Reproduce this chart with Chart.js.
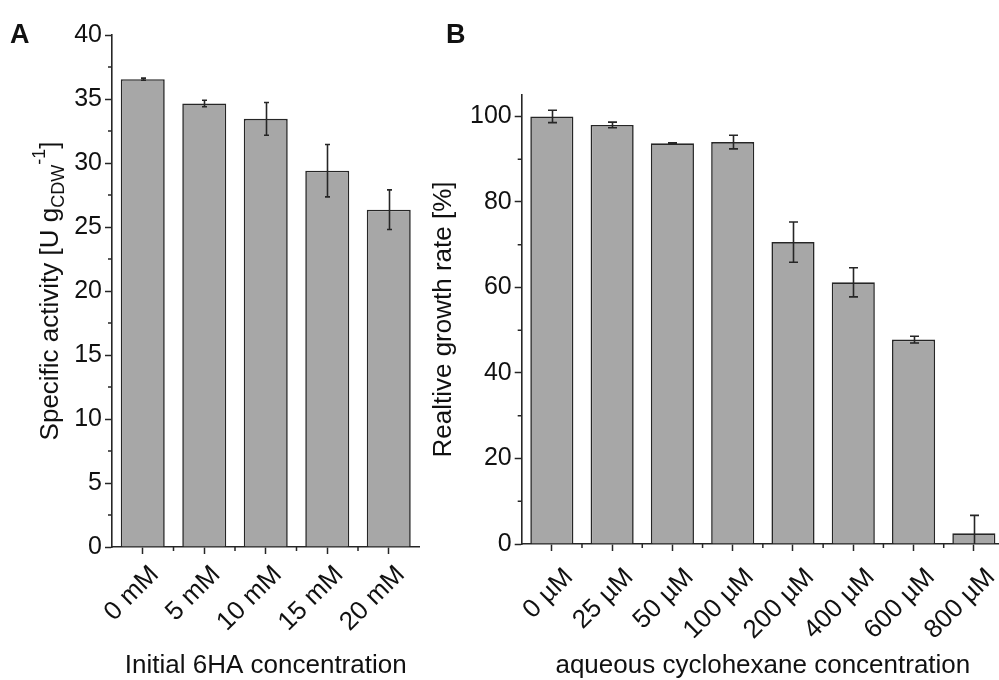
<!DOCTYPE html>
<html>
<head>
<meta charset="utf-8">
<script src="https://cdn.jsdelivr.net/npm/chart.js@4/dist/chart.umd.min.js"></script>
<style>
  html, body { margin: 0; padding: 0; background: #ffffff; overflow: hidden; }
  #wrap { position: relative; width: 999px; height: 680px; overflow: hidden; background: #ffffff; }
  #wrap canvas { position: absolute; left: 0; top: 0; }
</style>
</head>
<body>
<div id="wrap">
  <canvas id="chartA" width="1010" height="680"></canvas>
  <canvas id="chartB" width="1010" height="680"></canvas>
</div>
<script>
// Panel A: specific activity at different initial 6HA concentrations
const concA = ['0 mM', '5 mM', '10 mM', '15 mM', '20 mM'];
const activity = [36.55, 34.65, 33.45, 29.4, 26.35];
const activitySd = [0.08, 0.25, 1.28, 2.05, 1.55];
const yTicksA = [0, 5, 10, 15, 20, 25, 30, 35, 40];

// Panel B: relative growth rate vs. aqueous cyclohexane concentration
const concB = ['0 µM', '25 µM', '50 µM', '100 µM', '200 µM', '400 µM', '600 µM', '800 µM'];
const growth = [100, 98, 93.7, 94, 70.6, 61.2, 47.8, 2.5];
const growthSd = [1.45, 0.65, 0.15, 1.6, 4.7, 3.4, 0.8, 4.2];
const yTicksB = [0, 20, 40, 60, 80, 100];

const FONT = '"Liberation Sans", Arial, Helvetica, sans-serif';
const INK = '#262626';
const TEXT = '#111111';
const BAR_FILL = '#a7a7a7';
const X_LABEL_SIZE = 26;

// Error bars, drawn on top of the bars from the dataset values
function errorBarPlugin(sd, capHalf) {
  return {
    id: 'errorBars',
    afterDatasetsDraw(chart) {
      const { ctx, chartArea } = chart;
      const y = chart.scales.y;
      const meta = chart.getDatasetMeta(0);
      const vals = chart.data.datasets[0].data;
      ctx.save();
      ctx.beginPath();
      ctx.rect(chartArea.left, chartArea.top - 10, chartArea.width, chartArea.height + 10);
      ctx.clip();
      ctx.strokeStyle = INK;
      ctx.lineWidth = 1.6;
      meta.data.forEach((bar, i) => {
        const x = Math.round(bar.x) + 0.5;
        const hi = y.getPixelForValue(vals[i] + sd[i]);
        const lo = y.getPixelForValue(vals[i] - sd[i]);
        ctx.beginPath();
        ctx.moveTo(x, hi); ctx.lineTo(x, lo);
        ctx.moveTo(x - capHalf, hi); ctx.lineTo(x + capHalf, hi);
        ctx.moveTo(x - capHalf, lo); ctx.lineTo(x + capHalf, lo);
        ctx.stroke();
      });
      ctx.restore();
    }
  };
}

// Minor ticks (midway between major y ticks, between categories on x)
// and the 45° category labels under the x axis
function axisDecorPlugin(labelDx, labelDy) {
  return {
    id: 'axisDecor',
    afterDraw(chart) {
      const { ctx } = chart;
      const xs = chart.scales.x, ys = chart.scales.y;
      const major = ys.ticks.map(t => t.value);
      ctx.save();
      ctx.strokeStyle = INK;
      ctx.lineWidth = 1.5;
      ctx.beginPath();
      for (let i = 0; i < major.length - 1; i++) {
        const py = ys.getPixelForValue((major[i] + major[i + 1]) / 2);
        ctx.moveTo(ys.right - 4, py); ctx.lineTo(ys.right, py);
      }
      const labels = chart.data.labels;
      for (let i = 0; i < labels.length - 1; i++) {
        const px = (xs.getPixelForValue(i) + xs.getPixelForValue(i + 1)) / 2;
        ctx.moveTo(px, xs.top); ctx.lineTo(px, xs.top + 4);
      }
      ctx.stroke();

      // rotated labels: the upper right corner of each label sits just right of its tick
      ctx.fillStyle = TEXT;
      ctx.font = X_LABEL_SIZE + 'px ' + FONT;
      ctx.textAlign = 'right';
      ctx.textBaseline = 'alphabetic';
      const cap = 0.716 * X_LABEL_SIZE;
      labels.forEach((lab, i) => {
        const px = xs.getPixelForValue(i);
        ctx.save();
        ctx.translate(px + labelDx, xs.top + labelDy);
        ctx.rotate(-Math.PI / 4);
        ctx.fillText(lab, 0, cap);
        ctx.restore();
      });
      ctx.restore();
    }
  };
}

// Axis titles and panel letters
function drawRich(ctx, parts, cx, baseY) {
  let total = 0;
  parts.forEach(p => { ctx.font = p.size + 'px ' + FONT; p.w = ctx.measureText(p.t).width; total += p.w; });
  let x = cx - total / 2;
  parts.forEach(p => {
    ctx.font = p.size + 'px ' + FONT;
    ctx.fillText(p.t, x, baseY + (p.dy || 0));
    x += p.w;
  });
}

function textPlugin(cfg) {
  return {
    id: 'panelText',
    afterDraw(chart) {
      const { ctx, chartArea } = chart;
      ctx.save();
      ctx.fillStyle = TEXT;
      ctx.textBaseline = 'alphabetic';
      ctx.textAlign = 'left';
      ctx.font = 'bold 27px ' + FONT;
      ctx.fillText(cfg.letter, cfg.letterX, cfg.letterY);
      drawRich(ctx, [{ t: cfg.xTitle, size: 26 }], (chartArea.left + chartArea.right) / 2, 673);
      ctx.translate(cfg.yTitleX, (chartArea.top + chartArea.bottom) / 2);
      ctx.rotate(-Math.PI / 2);
      drawRich(ctx, cfg.yTitle, 0, 0);
      ctx.restore();
    }
  };
}

function makeChart(id, labels, values, sd, yMax, yTicks, area, capHalf, labelPos, texts) {
  return new Chart(document.getElementById(id), {
    type: 'bar',
    data: {
      labels: labels,
      datasets: [{
        data: values,
        backgroundColor: BAR_FILL,
        borderColor: INK,
        borderWidth: 1.6,
        categoryPercentage: 1,
        barPercentage: 0.715
      }]
    },
    options: {
      responsive: false,
      animation: false,
      devicePixelRatio: 1,
      layout: { padding: { left: 0, top: area.top, right: 1010 - area.right, bottom: 0 } },
      plugins: { legend: { display: false }, tooltip: { enabled: false } },
      scales: {
        x: {
          offset: true,
          afterFit: s => { s.height = 680 - area.bottom; },
          border: { display: true, color: INK, width: 1.6 },
          grid: { display: true, offset: false, drawOnChartArea: false, drawTicks: true,
                  tickLength: 7, tickWidth: 1.5, tickColor: INK, color: INK },
          ticks: { display: false, autoSkip: false }
        },
        y: {
          min: 0, max: yMax,
          afterBuildTicks: s => { s.ticks = yTicks.map(v => ({ value: v })); },
          afterFit: s => { s.width = area.left; },
          border: { display: true, color: INK, width: 1.6 },
          grid: { display: true, drawOnChartArea: false, drawTicks: true,
                  tickLength: 7, tickWidth: 1.5, tickColor: INK, color: INK },
          ticks: { padding: 3, color: TEXT, font: { family: FONT, size: 25 } }
        }
      }
    },
    plugins: [errorBarPlugin(sd, capHalf), axisDecorPlugin(labelPos[0], labelPos[1]), textPlugin(texts)]
  });
}

makeChart('chartA', concA, activity, activitySd, 40, yTicksA,
  { left: 112, top: 35, right: 419.5, bottom: 547 }, 2.5, [4, 15.5],
  {
    letter: 'A', letterX: 10, letterY: 43,
    xTitle: 'Initial 6HA concentration',
    yTitleX: 58,
    yTitle: [
      { t: 'Specific activity [U g', size: 26 },
      { t: 'CDW', size: 18, dy: 6 },
      { t: '-1', size: 18, dy: -13 },
      { t: ']', size: 26 }
    ]
  });

makeChart('chartB', concB, growth, growthSd, 105, yTicksB,
  { left: 521.7, top: 95, right: 1004, bottom: 544 }, 4.5, [9, 21],
  {
    letter: 'B', letterX: 446, letterY: 43,
    xTitle: 'aqueous cyclohexane concentration',
    yTitleX: 450.5,
    yTitle: [{ t: 'Realtive growth rate [%]', size: 26 }]
  });
</script>
</body>
</html>
